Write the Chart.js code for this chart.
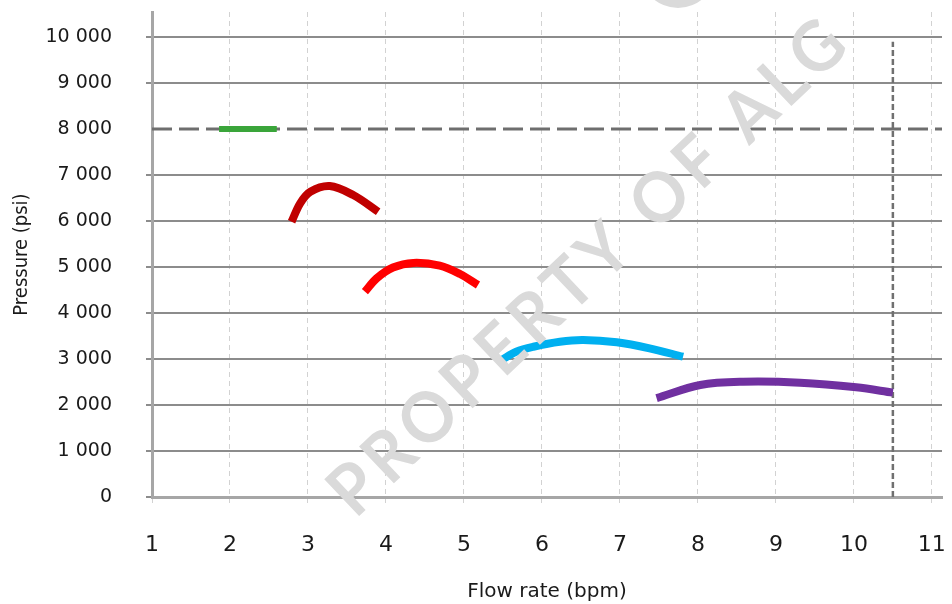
<!DOCTYPE html>
<html>
<head>
<meta charset="utf-8">
<script src="https://cdn.jsdelivr.net/npm/chart.js@4.4.1/dist/chart.umd.min.js"></script>
<style>
    html, body { margin: 0; padding: 0; background: #fff; }
</style>
</head>
<body>
<canvas id="myChart" width="952" height="604"></canvas>
<script>
//  Tick labels
const xTicks = [1, 2, 3, 4, 5, 6, 7, 8, 9, 10, 11];
const yTicks = [0, 1000, 2000, 3000, 4000, 5000, 6000, 7000, 8000, 9000, 10000];

//  Limits
const limitPressure = 8000;
const limitFlowRate = 10.5;

//  Curves (flow rate, pressure)
const greenX   = [1.86, 2.60];
const greenY   = [8000, 8000];
const darkRedX = [2.79, 2.90, 3.03, 3.28, 3.58, 3.90];
const darkRedY = [5985, 6385, 6637, 6761, 6565, 6202];
const redX     = [3.73, 3.88, 4.09, 4.35, 4.69, 4.95, 5.18];
const redY     = [4463, 4754, 4990, 5090, 5030, 4848, 4609];
const cyanX    = [5.48, 5.67, 5.89, 6.23, 6.53, 6.96, 7.38, 7.81];
const cyanY    = [2978, 3159, 3267, 3376, 3413, 3363, 3233, 3050];
const purpleX  = [7.47, 8.03, 8.58, 9.31, 10.03, 10.50];
const purpleY  = [2150, 2435, 2505, 2485, 2385, 2270];

function toPoints(xs, ys){
    return xs.map((x, i) => ({x: x, y: ys[i]}));
}

function curve(xs, ys, colour, width){
    return {
        data: toPoints(xs, ys),
        borderColor: colour,
        borderWidth: width,
        pointRadius: 0,
        tension: 0.35,
        fill: false
    };
}

//  Fixed size of axis boxes, no extra label padding
function fixBox(s){
    if(s.isHorizontal()){
        s.height = 107;
    } else {
        s.width = 152;
    }
    s.paddingTop = 0;
    s.paddingBottom = 0;
    s.paddingLeft = 0;
    s.paddingRight = 0;
}

//  Watermark drawn over the plot
const watermark = {
    id: 'watermark',
    afterDatasetsDraw(chart){
        const ctx = chart.ctx;
        ctx.save();
        ctx.fillStyle = '#dadada';
        ctx.beginPath();
        ctx.arc(678, -30, 38, 0, Math.PI * 2);
        ctx.fill();
        ctx.translate(590, 266);
        ctx.rotate(-43.5 * Math.PI / 180);
        ctx.font = 'bold 70px Lato';
        ctx.letterSpacing = '7px';
        const w = ctx.measureText('PROPERTY OF ALG').width;
        ctx.scale(690 / w, 1);
        ctx.textAlign = 'center';
        ctx.textBaseline = 'middle';
        ctx.fillText('PROPERTY OF ALG', 0, 0);
        ctx.restore();
    }
};

const data = {
    datasets: [
        curve(greenX, greenY, '#3aa53a', 6),
        curve(darkRedX, darkRedY, '#c00000', 8),
        curve(redX, redY, '#ff0000', 8),
        curve(cyanX, cyanY, '#00b0f0', 8),
        curve(purpleX, purpleY, '#7030a0', 8),
        {   // pressure limit
            data: toPoints([1, 11.13], [limitPressure, limitPressure]),
            borderColor: '#6e6e6e', borderWidth: 3, borderDash: [20, 7],
            pointRadius: 0, order: 10
        },
        {   // flow rate limit
            data: toPoints([limitFlowRate, limitFlowRate], [0, 9900]),
            borderColor: '#707070', borderWidth: 2.5, borderDash: [6, 3],
            pointRadius: 0, order: 10
        }
    ]
};

const config = {
    type: 'line',
    data: data,
    plugins: [watermark],
    options: {
        responsive: false,
        animation: false,
        layout: { padding: { top: 12, right: 10 } },
        plugins: { legend: { display: false }, tooltip: { enabled: false } },
        scales: {
            x: {
                type: 'linear',
                min: 1,
                max: 11.13,
                afterBuildTicks: s => { s.ticks = xTicks.map(v => ({value: v})); },
                afterFit: fixBox,
                ticks: { color: '#1a1a1a', padding: 29, maxRotation: 0, font: { family: 'DejaVu Sans', size: 22 } },
                grid: { color: '#d2d2d2', lineWidth: 1, tickLength: 6 },
                border: { color: '#a6a6a6', width: 3, dash: [5, 4] },
                title: { display: true, text: 'Flow rate (bpm)', color: '#1a1a1a',
                         font: { family: 'DejaVu Sans', size: 20 }, padding: { top: 0, bottom: 0 } }
            },
            y: {
                min: 0,
                max: 10545,
                afterBuildTicks: s => { s.ticks = yTicks.map(v => ({value: v})); },
                afterFit: fixBox,
                ticks: { color: '#1a1a1a', padding: 34, font: { family: 'DejaVu Sans', size: 19 },
                         callback: v => String(v).replace(/\B(?=(\d{3})+(?!\d))/g, ' ') },
                grid: { color: c => (c.tick && c.tick.value === limitPressure) ? 'rgba(0,0,0,0)' : '#8c8c8c',
                        lineWidth: 2, tickLength: 6 },
                border: { color: '#a6a6a6', width: 3 },
                title: { display: true, text: 'Pressure (psi)', color: '#1a1a1a',
                         font: { family: 'DejaVu Sans Condensed, DejaVu Sans', size: 20 }, padding: { top: 10, bottom: 0 } }
            }
        }
    }
};

let myChart = new Chart(document.getElementById('myChart'), config);
</script>
</body>
</html>
